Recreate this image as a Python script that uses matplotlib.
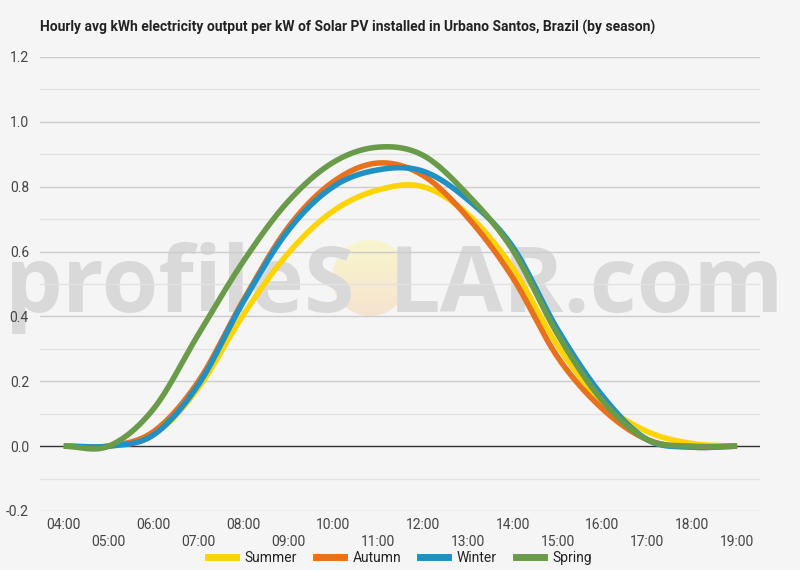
import numpy as np
import matplotlib
matplotlib.use("Agg")
import matplotlib.pyplot as plt
from matplotlib.patches import Circle
from matplotlib.lines import Line2D

plt.rcParams['font.family'] = ['Roboto', 'DejaVu Sans']

title = "Hourly avg kWh electricity output per kW of Solar PV installed in Urbano Santos, Brazil (by season)"
hours = list(range(4, 20))
hour_labels = [f"{h:02d}:00" for h in hours]
series_names = ["Summer", "Autumn", "Winter", "Spring"]
summer = [0, 0, 0.035, 0.18, 0.405, 0.595, 0.725, 0.79, 0.80, 0.715, 0.55, 0.31, 0.135, 0.045, 0.008, 0]
autumn = [0, 0, 0.045, 0.20, 0.45, 0.675, 0.815, 0.873, 0.835, 0.705, 0.52, 0.275, 0.115, 0.02, -0.003, 0]
winter = [0, 0, 0.035, 0.19, 0.445, 0.665, 0.80, 0.852, 0.848, 0.76, 0.615, 0.36, 0.155, 0.02, -0.003, 0]
spring = [0, 0, 0.115, 0.345, 0.57, 0.755, 0.875, 0.922, 0.897, 0.775, 0.605, 0.345, 0.14, 0.02, 0, 0]
colors = ["#FFD400", "#E8711E", "#2191C4", "#6A9B4A"]
y_ticks = [-0.2, 0.0, 0.2, 0.4, 0.6, 0.8, 1.0, 1.2]


def smooth(x, y, n=30):
    x = np.asarray(x, float)
    y = np.asarray(y, float)
    m = np.gradient(y, x)
    xs, ys = [], []
    for i in range(len(x) - 1):
        h = x[i + 1] - x[i]
        t = np.linspace(0, 1, n, endpoint=(i == len(x) - 2))
        h00 = 2 * t**3 - 3 * t**2 + 1
        h10 = t**3 - 2 * t**2 + t
        h01 = -2 * t**3 + 3 * t**2
        h11 = t**3 - t**2
        xs.append(x[i] + t * h)
        ys.append(h00 * y[i] + h10 * h * m[i] + h01 * y[i + 1] + h11 * h * m[i + 1])
    return np.concatenate(xs), np.concatenate(ys)


W, H = 800, 570
BG = "#f5f5f5"
fig = plt.figure(figsize=(W / 100, H / 100), dpi=100, facecolor=BG)

# background layer (watermark) in pixel coordinates
bg = fig.add_axes([0, 0, 1, 1], zorder=0)
bg.set_xlim(0, W)
bg.set_ylim(0, H)
bg.axis("off")
wm_kw = dict(fontsize=66, fontweight="bold", color="#d9d9d9",
             va="baseline", family=["Open Sans", "DejaVu Sans"])
bg.text(5, H - 312, "profileS", ha="left", **wm_kw)
bg.text(784, H - 312, "LAR.com", ha="right", **wm_kw)
cx, cy, r = 370, H - 278, 38
grad = np.linspace(0, 1, 100)[:, None]
top = np.array([0.973, 0.965, 0.80])
bot = np.array([0.965, 0.89, 0.81])
img = (1 - grad)[..., None] * top + grad[..., None] * bot
img = np.repeat(img, 2, axis=1)
im = bg.imshow(img, extent=(cx - r, cx + r, cy - r, cy + r), origin="upper", aspect="auto", zorder=2)
clip = Circle((cx, cy), r, transform=bg.transData)
im.set_clip_path(clip)

ax = fig.add_axes([40 / W, 1 - 511 / H, 720 / W, 454 / H], zorder=1)
ax.patch.set_alpha(0)
ax.set_xlim(hours[0] - 0.53, hours[-1] + 0.51)
ax.set_ylim(-0.2, 1.2)

for v in np.arange(-0.2, 1.21, 0.1):
    v = round(v, 2)
    if abs(v) < 1e-9:
        continue
    major = abs(round(v / 0.2) * 0.2 - v) < 1e-6
    ax.axhline(v, color="#cccccc" if major else "#e2e2e2", lw=1, zorder=0)
ax.axhline(0, color="#333333", lw=1, zorder=1)

data = [summer, autumn, winter, spring]
for name, vals, c in zip(series_names, data, colors):
    xs, ys = smooth(hours, vals)
    ax.plot(xs, ys, color=c, lw=4, solid_capstyle="butt", zorder=3, label=name)

for s in ax.spines.values():
    s.set_visible(False)
ax.tick_params(length=0)
ax.set_yticks(y_ticks)
ax.set_yticklabels([f"{v:.1f}" for v in y_ticks], color="#444444", fontsize=10)
ax.tick_params(axis="y", pad=8)
ax.set_xticks(hours)
ax.set_xticklabels([lab if i % 2 == 0 else "\n" + lab for i, lab in enumerate(hour_labels)],
                   color="#444444", fontsize=10, linespacing=1.3)
ax.tick_params(axis="x", pad=5)

fig.text(40 / W, 1 - 27 / H, title, fontsize=10, fontweight="bold", color="#222222", va="center", ha="left")

handles = [Line2D([0], [0], color=c, lw=5) for c in colors]
fig.legend(handles, series_names, loc="center", bbox_to_anchor=(0.5, 1 - 558 / H), ncol=4,
           frameon=False, fontsize=10, handlelength=2.0, handletextpad=0.6, columnspacing=1.4,
           labelcolor="#222222")

fig.savefig("out.png", dpi=100, facecolor=fig.get_facecolor())
